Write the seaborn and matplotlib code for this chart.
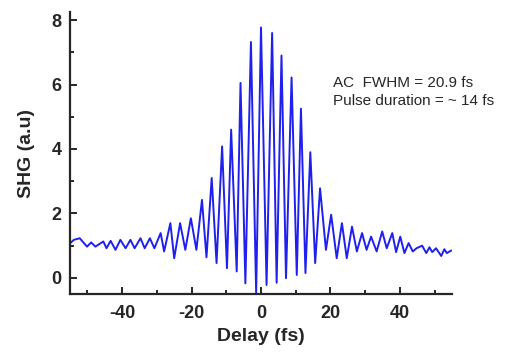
import matplotlib
matplotlib.use("Agg")
import matplotlib.pyplot as plt
from matplotlib.ticker import MultipleLocator
import seaborn as sns
import pandas as pd

# fringe extrema (delay in fs, SHG in a.u.)
delay = [-54.9, -53.9, -52.2, -50.1, -48.9, -47.7, -45.4, -44.5, -43.3, -41.9,
         -40.5, -39.0, -37.6, -36.4, -34.7, -33.5, -32.0, -30.7, -28.9, -27.9,
         -26.1, -25.0, -23.3, -21.8, -20.2, -18.6, -17.0, -15.7, -14.2, -12.8,
         -11.2, -9.8, -8.6, -7.0, -5.9, -4.5, -2.9, -1.4, 0.0, 1.6,
         3.2, 4.5, 5.9, 7.2, 8.8, 10.3, 11.5, 12.8, 14.2, 15.6,
         17.0, 18.7, 20.2, 21.8, 23.3, 24.7, 26.2, 27.6, 29.1, 30.4,
         31.7, 33.3, 34.9, 36.2, 37.8, 38.9, 40.1, 41.3, 42.5, 43.7,
         44.8, 46.4, 47.6, 48.5, 49.3, 50.4, 51.9, 52.8, 53.5, 54.8]
shg = [1.08, 1.18, 1.23, 0.97, 1.10, 0.97, 1.13, 0.92, 1.15, 0.87,
       1.18, 0.92, 1.18, 0.92, 1.23, 0.92, 1.23, 0.92, 1.39, 0.82,
       1.70, 0.61, 1.70, 0.87, 1.85, 0.87, 2.42, 0.64, 3.10, 0.46,
       4.08, 0.30, 4.60, 0.20, 6.05, -0.17, 7.32, -0.46, 7.77, -0.22,
       7.60, -0.15, 6.90, -0.01, 6.22, 0.09, 5.25, 0.15, 3.90, 0.46,
       2.78, 0.87, 1.96, 0.61, 1.70, 0.61, 1.59, 0.82, 1.39, 0.87,
       1.28, 0.82, 1.44, 0.92, 1.39, 0.80, 1.28, 0.77, 1.08, 0.82,
       0.92, 1.00, 0.77, 0.95, 0.80, 0.92, 0.68, 0.89, 0.77, 0.85]

annot_lines = ["AC  FWHM = 20.9 fs", "Pulse duration = ~ 14 fs"]

df = pd.DataFrame({"Delay (fs)": delay, "SHG (a.u)": shg})

sns.set_style("ticks")
plt.rcParams["font.family"] = ["Liberation Sans", "DejaVu Sans"]
plt.rcParams["axes.unicode_minus"] = False

fig = plt.figure(figsize=(5.24, 3.54), dpi=100)
ax = fig.add_axes([0.1336, 0.1695, 0.729, 0.7965])

sns.lineplot(data=df, x="Delay (fs)", y="SHG (a.u)", ax=ax, sort=False,
             estimator=None, color="#1f1ff0", linewidth=1.4)

ax.set_xlim(-55, 55)
ax.set_ylim(-0.5, 8.25)
ax.xaxis.set_major_locator(MultipleLocator(20))
ax.xaxis.set_minor_locator(MultipleLocator(10))
ax.yaxis.set_major_locator(MultipleLocator(2))
ax.yaxis.set_minor_locator(MultipleLocator(1))
ax.tick_params(which="both", direction="in", width=1.4, labelsize=13)
ax.tick_params(which="major", length=5)
ax.tick_params(which="minor", length=3)
ax.tick_params(axis="x", which="major", pad=8)
ax.tick_params(axis="y", which="major", pad=6)
for lab in ax.get_xticklabels() + ax.get_yticklabels():
    lab.set_fontweight("bold")

for side in ["top", "right"]:
    ax.spines[side].set_visible(False)
for side in ["left", "bottom"]:
    ax.spines[side].set_linewidth(1.6)

ax.set_xlabel("Delay (fs)", fontsize=14, fontweight="bold", labelpad=4)
ax.set_ylabel("SHG (a.u)", fontsize=14, fontweight="bold", labelpad=12)

ax.text(0.636, 0.766, annot_lines[0], transform=fig.transFigure,
        fontsize=11, va="center")
ax.text(0.636, 0.715, annot_lines[1], transform=fig.transFigure,
        fontsize=11, va="center")

fig.savefig("out.png", dpi=100)
